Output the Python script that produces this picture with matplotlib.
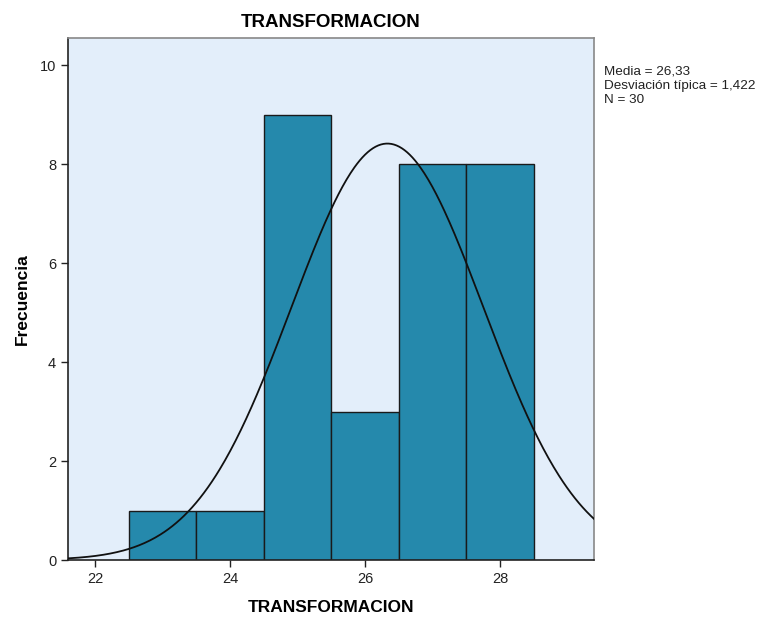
import numpy as np
import matplotlib
matplotlib.use("Agg")
import matplotlib.pyplot as plt

plt.rcParams['font.family'] = ['Liberation Sans', 'DejaVu Sans']

bin_edges = [22.5, 23.5, 24.5, 25.5, 26.5, 27.5, 28.5]
counts = [1, 1, 9, 3, 8, 8]
mean = 26.33
sd = 1.422
n = 30
x_ticks = [22, 24, 26, 28]
y_ticks = [0, 2, 4, 6, 8, 10]

fig = plt.figure(figsize=(7.61, 6.18), dpi=100)
ax = fig.add_axes([68/761, 58/618, (594-68)/761, (560-38)/618])
ax.set_facecolor('#E3EEFA')

lefts = bin_edges[:-1]
widths = np.diff(bin_edges)
ax.bar(lefts, counts, width=widths, align='edge', color='#2589AC',
       edgecolor='#1a1a1a', linewidth=1.0, zorder=2)

xs = np.linspace(21.6, 29.4, 400)
bw = bin_edges[1] - bin_edges[0]
ys = n * bw / (sd * np.sqrt(2*np.pi)) * np.exp(-0.5*((xs-mean)/sd)**2)
ax.plot(xs, ys, color='#111111', linewidth=1.3, zorder=3)

ax.set_xlim(21.6, 29.39)
ax.set_ylim(0, 10.55)
ax.set_xticks(x_ticks)
ax.set_yticks(y_ticks)
ax.tick_params(axis='both', direction='out', length=5, width=1, labelsize=10.5, colors='#222222')
for s in ['left', 'bottom']:
    ax.spines[s].set_color('#222222')
    ax.spines[s].set_linewidth(1.2)
for s in ['top', 'right']:
    ax.spines[s].set_color('#888888')
    ax.spines[s].set_linewidth(1.2)

ax.set_title('TRANSFORMACION', fontsize=13.5, fontweight='bold', pad=8)
ax.set_xlabel('TRANSFORMACION', fontsize=12.5, fontweight='bold', labelpad=10)
ax.set_ylabel('Frecuencia', fontsize=12.5, fontweight='bold')
ax.yaxis.set_label_coords(-0.073, 0.5)

fig.text(604/761, 1-65/618, 'Media = 26,33\nDesviación típica = 1,422\nN = 30',
         fontsize=9.7, va='top', ha='left', linespacing=1.3, color='#222222')

fig.savefig('out.png', dpi=100)
